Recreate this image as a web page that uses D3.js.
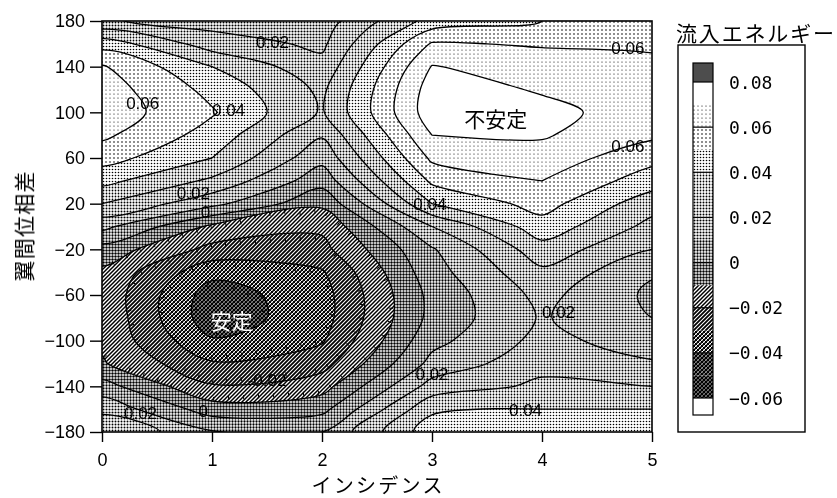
<!DOCTYPE html>
<html>
<head>
<meta charset="utf-8">
<script src="https://cdn.jsdelivr.net/npm/d3@7"></script>
<style>
  body { margin: 0; background: #fff; }
  svg { will-change: transform; }
  text { font-family: "Liberation Sans", Arial, sans-serif; fill: #000; }
  .jp { font-family: "Noto Sans CJK JP", sans-serif; }
  .mono { font-family: "DejaVu Sans Mono", monospace; }
</style>
</head>
<body>
<svg id="chart" width="837" height="498"></svg>
<script>
// grid: incidence (x) and blade phase difference (y), energy read per column
const incidence = [0, 1, 2, 3, 4, 5];
const phase = [180, 160, 140, 120, 100, 80, 60, 40, 20, 0, -20, -40, -60, -80, -100, -120, -140, -160, -180];

const inc0 = [0.021, 0.046, 0.061, 0.065, 0.066, 0.062, 0.054, 0.043, 0.030, 0.013, -0.004, -0.012, -0.013, -0.012, -0.012, -0.009, 0.004, 0.017, 0.030];
const inc1 = [0.016, 0.025, 0.040, 0.047, 0.051, 0.046, 0.040, 0.028, 0.013, -0.012, -0.023, -0.037, -0.045, -0.046, -0.039, -0.029, -0.019, -0.005, 0.011];
const inc2 = [0.015, 0.018, 0.023, 0.028, 0.029, 0.021, 0.013, 0.004, -0.008, -0.018, -0.023, -0.031, -0.034, -0.034, -0.031, -0.024, -0.014, -0.003, 0.010];
const inc3 = [0.044, 0.061, 0.0705, 0.075, 0.076, 0.070, 0.062, 0.052, 0.040, 0.020, 0.009, 0.006, 0.003, 0.003, 0.007, 0.013, 0.024, 0.038, 0.046];
const inc4 = [0.050, 0.059, 0.065, 0.069, 0.073, 0.071, 0.066, 0.060, 0.054, 0.046, 0.036, 0.028, 0.023, 0.021, 0.023, 0.027, 0.032, 0.040, 0.045];
const inc5 = [0.053, 0.058, 0.063, 0.065, 0.065, 0.062, 0.053, 0.045, 0.034, 0.027, 0.020, 0.011, 0.008, 0.010, 0.015, 0.021, 0.030, 0.040, 0.046];

const lineLevels = [-0.05, -0.04, -0.03, -0.02, -0.01, 0, 0.01, 0.02, 0.03, 0.04, 0.05, 0.06, 0.07];
const bandLevels = [-0.06, -0.05, -0.04, -0.03, -0.02, -0.01, 0, 0.01, 0.02, 0.03, 0.04, 0.05, 0.06, 0.07, 0.08];
const legendTicks = [0.08, 0.06, 0.04, 0.02, 0, -0.02, -0.04, -0.06];

const contourLabels = [
  {text: "0.02", x: 1.55, y: 161},
  {text: "0.06", x: 0.37, y: 108},
  {text: "0.04", x: 1.15, y: 102},
  {text: "0.06", x: 4.78, y: 156},
  {text: "0.06", x: 4.78, y: 70},
  {text: "0.02", x: 0.83, y: 29},
  {text: "0", x: 0.94, y: 12},
  {text: "0.04", x: 2.98, y: 19},
  {text: "0.02", x: 4.15, y: -75},
  {text: "-0.02", x: 1.5, y: -135},
  {text: "0.02", x: 0.35, y: -164},
  {text: "0", x: 0.92, y: -162},
  {text: "0.02", x: 3.0, y: -130},
  {text: "0.04", x: 3.85, y: -161}
];
const regionNotes = [
  {text: "安定", x: 1.18, y: -82, fill: "#fff"},
  {text: "不安定", x: 3.58, y: 95, fill: "#000"}
];

const columns = [inc0, inc1, inc2, inc3, inc4, inc5];
const nx = incidence.length, ny = phase.length;
const grid = [];
for (let j = 0; j < ny; j++) for (let i = 0; i < nx; i++) grid.push(columns[i][j]);

const svg = d3.select("#chart");
const x = d3.scaleLinear().domain([0, 5]).range([102, 652]);
const y = d3.scaleLinear().domain([-180, 180]).range([432, 21]);
// contour grid coordinates: value i sits at i + 0.5
const xs = d3.scaleLinear().domain([0.5, nx - 0.5]).range([x(0), x(5)]);
const ys = d3.scaleLinear().domain([0.5, ny - 0.5]).range([y(180), y(-180)]);

const defs = svg.append("defs");
defs.append("clipPath").attr("id", "plotclip")
  .append("rect").attr("x", x(0)).attr("y", y(180))
  .attr("width", x(5) - x(0)).attr("height", y(-180) - y(180));

function dotPattern(id, s, r, col) {
  const p = defs.append("pattern").attr("id", id)
    .attr("patternUnits", "userSpaceOnUse").attr("width", s).attr("height", s);
  p.append("rect").attr("width", s).attr("height", s).attr("fill", "#fff");
  p.append("circle").attr("cx", s / 2).attr("cy", s / 2).attr("r", r).attr("fill", col || "#000");
}
function hatchPattern(id, w, cross) {
  const p = defs.append("pattern").attr("id", id)
    .attr("patternUnits", "userSpaceOnUse").attr("width", 4).attr("height", 4);
  p.append("rect").attr("width", 4).attr("height", 4).attr("fill", "#fff");
  p.append("path").attr("d", "M-1,1 L1,-1 M-1,5 L5,-1 M3,5 L5,3")
    .attr("stroke", "#000").attr("stroke-width", w);
  if (cross) p.append("path").attr("d", "M-1,3 L1,5 M-1,-1 L5,5 M3,-1 L5,1")
    .attr("stroke", "#000").attr("stroke-width", cross);
}

// one fill per 0.01 band, keyed by lower bound
const bandFill = {};
hatchPattern("b-06", 1.7, 1.5); bandFill[-0.06] = "url(#b-06)";
hatchPattern("b-05", 1.6, 1.3); bandFill[-0.05] = "url(#b-05)";
hatchPattern("b-04", 1.5, 1.0); bandFill[-0.04] = "url(#b-04)";
hatchPattern("b-03", 1.8, 0);   bandFill[-0.03] = "url(#b-03)";
hatchPattern("b-02", 1.5, 0);   bandFill[-0.02] = "url(#b-02)";
dotPattern("b-01", 3, 1.2);  bandFill[-0.01] = "url(#b-01)";
dotPattern("b00", 3, 1.13);  bandFill[0] = "url(#b00)";
dotPattern("b01", 3, 1.06);  bandFill[0.01] = "url(#b01)";
dotPattern("b02", 3, 0.98);  bandFill[0.02] = "url(#b02)";
dotPattern("b03", 3, 0.9);   bandFill[0.03] = "url(#b03)";
dotPattern("b04", 3, 0.8);   bandFill[0.04] = "url(#b04)";
dotPattern("b05", 4, 0.8);   bandFill[0.05] = "url(#b05)";
dotPattern("b06", 4, 0.6);   bandFill[0.06] = "url(#b06)";
bandFill[0.07] = "#fff";
dotPattern("b08", 2, 1.0, "#111"); bandFill[0.08] = "url(#b08)";

// rings -> smoothed closed curves in screen space
const ringLine = d3.line().curve(d3.curveCatmullRomClosed.alpha(0.5));
function ringPx(ring) {
  const pts = ring.map(p => [xs(p[0]), ys(p[1])]);
  const a = pts[0], b = pts[pts.length - 1];
  if (a[0] === b[0] && a[1] === b[1]) pts.pop();
  return pts;
}
function multiPath(c) {
  return c.coordinates.map(poly => poly.map(r => ringLine(ringPx(r))).join("")).join("");
}

const plot = svg.append("g").attr("clip-path", "url(#plotclip)");
plot.append("rect").attr("x", x(0)).attr("y", y(180))
  .attr("width", x(5) - x(0)).attr("height", y(-180) - y(180)).attr("fill", "#fff");

const bands = d3.contours().size([nx, ny]).thresholds(bandLevels)(grid);
plot.append("g").selectAll("path")
  .data(bands)
  .join("path")
  .attr("d", multiPath)
  .attr("fill-rule", "evenodd")
  .attr("fill", d => bandFill[Math.round(d.value * 100) / 100]);

const isolines = d3.contours().size([nx, ny]).thresholds(lineLevels)(grid);
plot.append("g").selectAll("path")
  .data(isolines)
  .join("path")
  .attr("d", multiPath)
  .attr("fill", "none")
  .attr("stroke", "#000")
  .attr("stroke-width", 1.3);

// hachures on negative contours, pointing downhill
function valueAt(px, py) {
  let fx = xs.invert(px) - 0.5, fy = ys.invert(py) - 0.5;
  fx = Math.max(0, Math.min(nx - 1, fx));
  fy = Math.max(0, Math.min(ny - 1, fy));
  const i = Math.min(nx - 2, Math.floor(fx)), j = Math.min(ny - 2, Math.floor(fy));
  const tx = fx - i, ty = fy - j;
  const v = (a, b) => grid[b * nx + a];
  return (1 - tx) * (1 - ty) * v(i, j) + tx * (1 - ty) * v(i + 1, j)
       + (1 - tx) * ty * v(i, j + 1) + tx * ty * v(i + 1, j + 1);
}
const ticks = [];
isolines.filter(c => c.value < -0.001).forEach(c => {
  c.coordinates.forEach(poly => poly.forEach(ring => {
    const pts = ring.map(p => [xs(p[0]), ys(p[1])]);
    let acc = 6;
    for (let k = 0; k < pts.length - 1; k++) {
      const a = pts[k], b = pts[k + 1];
      const L = Math.hypot(b[0] - a[0], b[1] - a[1]);
      if (L === 0) continue;
      const dx = (b[0] - a[0]) / L, dy = (b[1] - a[1]) / L;
      while (acc < L) {
        const px = a[0] + dx * acc, py = a[1] + dy * acc;
        let nxv = -dy, nyv = dx;
        if (valueAt(px + nxv * 3, py + nyv * 3) > c.value) { nxv = -nxv; nyv = -nyv; }
        ticks.push([px, py, px + nxv * 4, py + nyv * 4]);
        acc += 15;
      }
      acc -= L;
    }
  }));
});
plot.append("g").selectAll("line")
  .data(ticks)
  .join("line")
  .attr("x1", d => d[0]).attr("y1", d => d[1])
  .attr("x2", d => d[2]).attr("y2", d => d[3])
  .attr("stroke", "#000").attr("stroke-width", 1);

plot.append("g").attr("class", "mono")
  .selectAll("text")
  .data(contourLabels)
  .join("text")
  .attr("x", d => x(d.x))
  .attr("y", d => y(d.y))
  .attr("text-anchor", "middle")
  .attr("dominant-baseline", "central")
  .attr("font-size", 17)
  .text(d => d.text);

plot.append("g")
  .selectAll("text")
  .data(regionNotes)
  .join("text")
  .attr("class", "jp")
  .attr("x", d => x(d.x))
  .attr("y", d => y(d.y))
  .attr("text-anchor", "middle")
  .attr("dominant-baseline", "central")
  .attr("font-size", 21)
  .style("fill", d => d.fill)
  .text(d => d.text);

// frame and axes
svg.append("rect").attr("x", x(0)).attr("y", y(180))
  .attr("width", x(5) - x(0)).attr("height", y(-180) - y(180))
  .attr("fill", "none").attr("stroke", "#000").attr("stroke-width", 1.6);

const yAxis = svg.append("g").attr("transform", `translate(${x(0)},0)`)
  .call(d3.axisLeft(y).tickValues(d3.range(-180, 181, 40)).tickSize(12).tickPadding(5));
const xAxis = svg.append("g").attr("transform", `translate(0,${y(-180)})`)
  .call(d3.axisBottom(x).tickValues(incidence).tickFormat(d3.format("d")).tickSize(10).tickPadding(11));
[yAxis, xAxis].forEach(g => {
  g.select(".domain").remove();
  g.selectAll(".tick line").attr("stroke", "#000").attr("stroke-width", 1.4);
  g.selectAll(".tick text").attr("font-size", 18).attr("font-family", "Liberation Sans, Arial, sans-serif");
});

svg.append("text").attr("class", "jp")
  .attr("x", (x(0) + x(5)) / 2).attr("y", 493)
  .attr("text-anchor", "middle").attr("font-size", 20)
  .attr("textLength", 131).attr("lengthAdjust", "spacing")
  .text("インシデンス");
svg.append("text").attr("class", "jp")
  .attr("transform", `translate(23,${(y(180) + y(-180)) / 2}) rotate(-90)`)
  .attr("text-anchor", "middle").attr("dominant-baseline", "central")
  .attr("font-size", 21)
  .attr("textLength", 110).attr("lengthAdjust", "spacing")
  .text("翼間位相差");

// legend
const ly = d3.scaleLinear().domain([-0.06, 0.08]).range([398, 82]);
const lg = svg.append("g");
lg.append("text").attr("class", "jp").attr("x", 676).attr("y", 41)
  .attr("font-size", 21)
  .attr("textLength", 158).attr("lengthAdjust", "spacing")
  .text("流入エネルギー");
lg.append("rect").attr("x", 678).attr("y", 45).attr("width", 127).attr("height", 387)
  .attr("fill", "#fff").attr("stroke", "#000").attr("stroke-width", 1.4);

const barX = 693, barW = 20;
lg.append("rect").attr("x", barX).attr("y", 63).attr("width", barW).attr("height", ly(0.08) - 63)
  .attr("fill", bandFill[0.08]);
lg.selectAll("rect.band")
  .data(bandLevels.slice(0, -1))
  .join("rect")
  .attr("class", "band")
  .attr("x", barX).attr("width", barW)
  .attr("y", d => ly(d + 0.01))
  .attr("height", d => ly(d) - ly(d + 0.01))
  .attr("fill", d => bandFill[Math.round(d * 100) / 100]);
lg.append("rect").attr("x", barX).attr("y", ly(-0.06)).attr("width", barW).attr("height", 415 - ly(-0.06))
  .attr("fill", "#fff");
lg.append("rect").attr("x", barX).attr("y", 63).attr("width", barW).attr("height", 415 - 63)
  .attr("fill", "none").attr("stroke", "#000").attr("stroke-width", 1.2);
lg.selectAll("line.sep")
  .data(legendTicks)
  .join("line")
  .attr("class", "sep")
  .attr("x1", barX).attr("x2", barX + barW)
  .attr("y1", d => ly(d)).attr("y2", d => ly(d))
  .attr("stroke", "#000").attr("stroke-width", 1.2);
lg.selectAll("text.lab")
  .data(legendTicks)
  .join("text")
  .attr("class", "lab mono")
  .attr("x", 729)
  .attr("y", d => ly(d))
  .attr("dominant-baseline", "central")
  .attr("font-size", 18)
  .text(d => d === 0 ? "0" : d3.format(".2f")(d).replace("-", "−"));
</script>
</body>
</html>
